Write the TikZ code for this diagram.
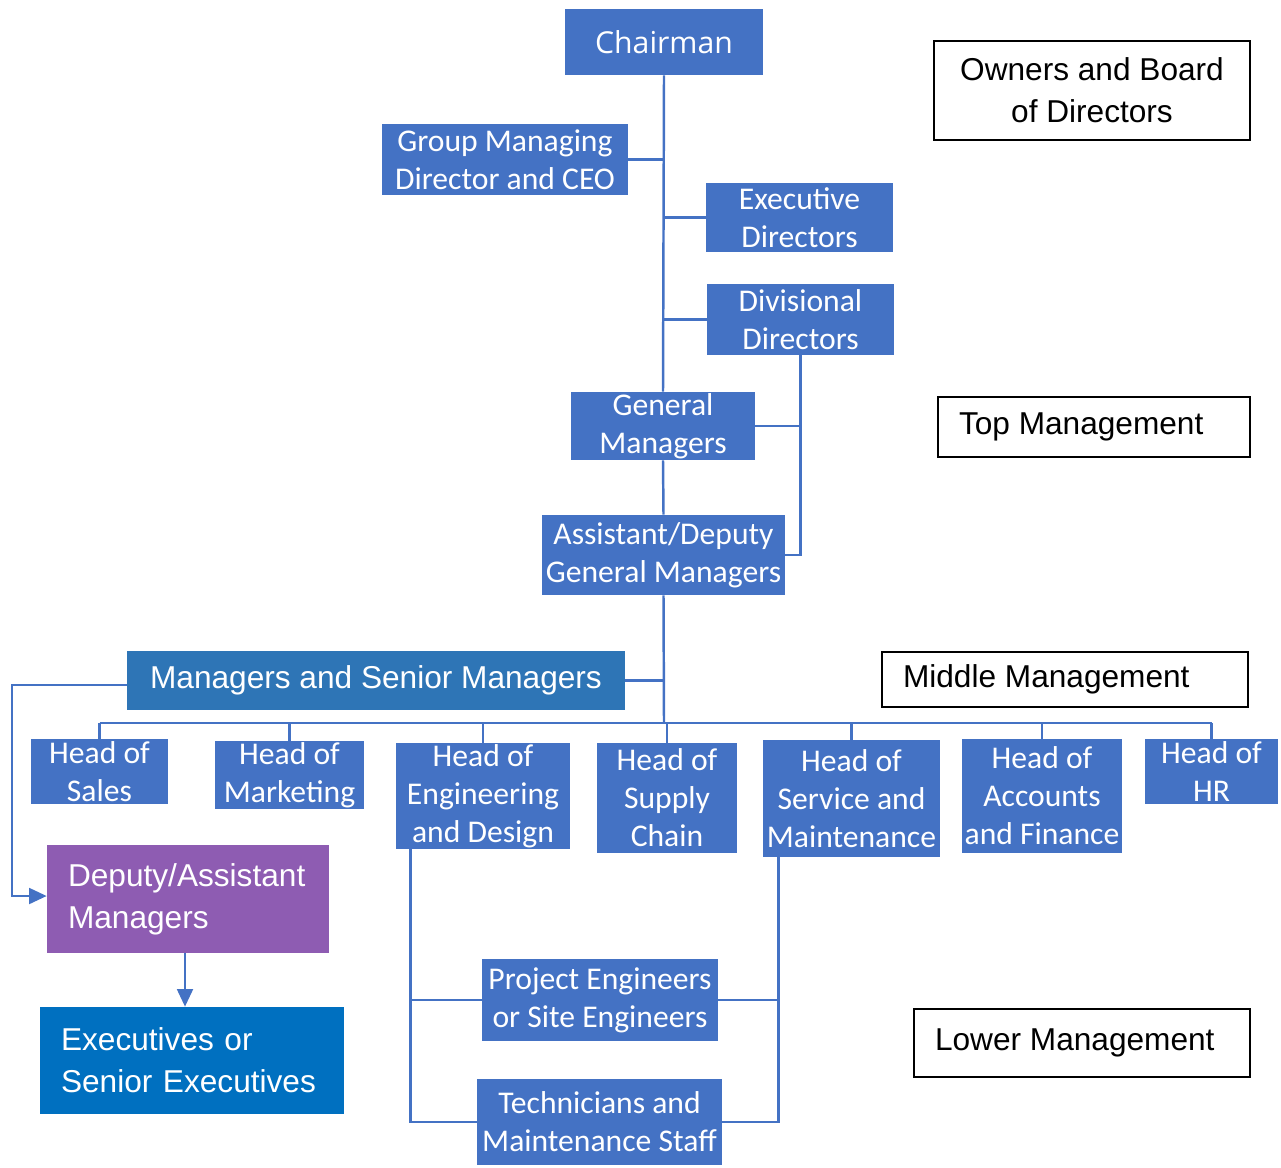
\documentclass[tikz,border=0pt]{standalone}
\usepackage{fontspec}
\setmainfont{Carlito}
\newfontfamily\arialfont{Liberation Sans}
\newfontfamily\segoefont{Open Sans}
\usepackage{tikz}
\usetikzlibrary{arrows.meta, positioning}

\definecolor{boxblue}{HTML}{4472C4}
\definecolor{steelblue}{HTML}{2E75B6}
\definecolor{deeppurple}{HTML}{8E5CB2}
\definecolor{execblue}{HTML}{0070C0}

\begin{document}
\begin{tikzpicture}[
    x=0.02cm, y=-0.02cm,
    post/.style={rectangle, fill=boxblue, text=white, inner sep=0pt, align=center, font=\fontsize{18}{21.6}\selectfont},
    level/.style={rectangle, draw=black, line width=0.8pt, fill=white, inner sep=0pt, align=center, font=\arialfont\fontsize{18}{24}\selectfont},
    tier/.style={level, inner xsep=0.42cm},
    staff/.style={rectangle, text=white, inner xsep=0.42cm, inner ysep=0pt, align=left, font=\arialfont\fontsize{18}{24}\selectfont},
    link/.style={draw=boxblue, line width=1.4pt},
    flow/.style={link, -{Triangle[length=10pt, width=9pt]}}
]
\useasboundingbox (0,0) rectangle (1281,1167);

% Top of the chart
\node[post, minimum width=3.96cm, minimum height=1.32cm, font=\segoefont\fontsize{17.2}{21}\selectfont] (chair) at (664,42) {Chairman};
\node[post, minimum width=4.92cm, minimum height=1.42cm] (gmd) at (505,159.5) {Group Managing\\Director and CEO};
\node[post, minimum width=3.74cm, minimum height=1.38cm] (exec) at (799.5,217.5) {Executive\\Directors};
\node[post, minimum width=3.74cm, minimum height=1.42cm] (div) at (800.5,319.5) {Divisional\\Directors};
\node[post, minimum width=3.68cm, minimum height=1.36cm] (gm) at (663,426) {General\\Managers};
\node[post, minimum width=4.86cm, minimum height=1.6cm] (agm) at (663.5,555) {Assistant/Deputy\\General Managers};

% Middle of the chart
\node[post, fill=steelblue, minimum width=9.96cm, minimum height=1.18cm, font=\arialfont\fontsize{18}{21.6}\selectfont] (msm) at (376,680.5) {Managers and Senior Managers};
\node[post, minimum width=2.74cm, minimum height=1.3cm] (sales) at (99.5,771.5) {Head of\\Sales};
\node[post, minimum width=2.98cm, minimum height=1.36cm] (mkt) at (289.5,775) {Head of\\Marketing};
\node[post, minimum width=3.48cm, minimum height=2.12cm] (eng) at (483,796) {Head of\\Engineering\\and Design};
\node[post, minimum width=2.8cm, minimum height=2.2cm] (supply) at (667,798) {Head of\\Supply\\Chain};
\node[post, minimum width=3.54cm, minimum height=2.34cm] (svc) at (851.5,798.5) {Head of\\Service and\\Maintenance};
\node[post, minimum width=3.2cm, minimum height=2.28cm] (acc) at (1042,796) {Head of\\Accounts\\and Finance};
\node[post, minimum width=2.66cm, minimum height=1.3cm] (hr) at (1211.5,771.5) {Head of\\HR};

% Lower part of the chart
\node[staff, fill=deeppurple, text width=4.8cm, minimum height=2.16cm] (deputy) at (188,899) {Deputy/Assistant\\Managers};
\node[staff, fill=execblue, text width=5.24cm, minimum height=2.14cm] (execs) at (192,1060.5) {Executives or\\Senior Executives};
\node[post, minimum width=4.72cm, minimum height=1.64cm] (proj) at (600,1000) {Project Engineers\\or Site Engineers};
\node[post, minimum width=4.9cm, minimum height=1.72cm] (tech) at (599.5,1122) {Technicians and\\Maintenance Staff};

% Management levels
\node[level, minimum width=6.32cm, minimum height=1.98cm] (owners) at (1092,90.5) {Owners and Board\\of Directors};
\node[tier, minimum height=1.2cm] (top) at (1094,427) {\makebox[5.4cm][l]{Top Management}};
\node[tier, minimum height=1.1cm] (middle) at (1065,679.5) {\makebox[6.48cm][l]{Middle Management}};
\node[tier, minimum height=1.36cm] (lower) at (1082,1043) {\makebox[5.88cm][l]{Lower Management}};

% Reporting lines
\coordinate (bus) at (664,723);
\draw[link] (chair.south) -- (gm.north);
\draw[link] (gmd.east) -- (gmd.east -| chair.south);
\draw[link] (exec.west) -- (exec.west -| chair.south);
\draw[link] (div.west) -- (div.west -| chair.south);
\draw[link] (div.south) -- (div.south |- agm.east) -- (agm.east);
\draw[link] (gm.east) -- (gm.east -| div.south);
\draw[link] (gm.south) -- (agm.north);
\draw[link] (agm.south) -- (bus);
\draw[link] (msm.east) -- (msm.east -| bus);
\draw[link] (sales.north |- bus) -- (hr.north |- bus);
\foreach \h in {sales, mkt, eng, supply, svc, acc, hr}
    \draw[link] (\h.north) -- (\h.north |- bus);

\coordinate (elbow) at (12,685);
\draw[flow] (msm.west |- elbow) -- (elbow) |- ([yshift=0.06cm]deputy.west);
\coordinate (drop) at ([xshift=-0.06cm]deputy.south);
\draw[flow] (drop) -- (drop |- execs.north);

\coordinate (englink) at ([xshift=0.3cm]eng.south west);
\coordinate (svclink) at ([xshift=0.32cm]svc.south west);
\draw[link] (englink) |- (tech.west);
\draw[link] (englink |- proj.west) -- (proj.west);
\draw[link] (svclink) |- (tech.east);
\draw[link] (proj.east) -- (proj.east -| svclink);

\end{tikzpicture}
\end{document}
